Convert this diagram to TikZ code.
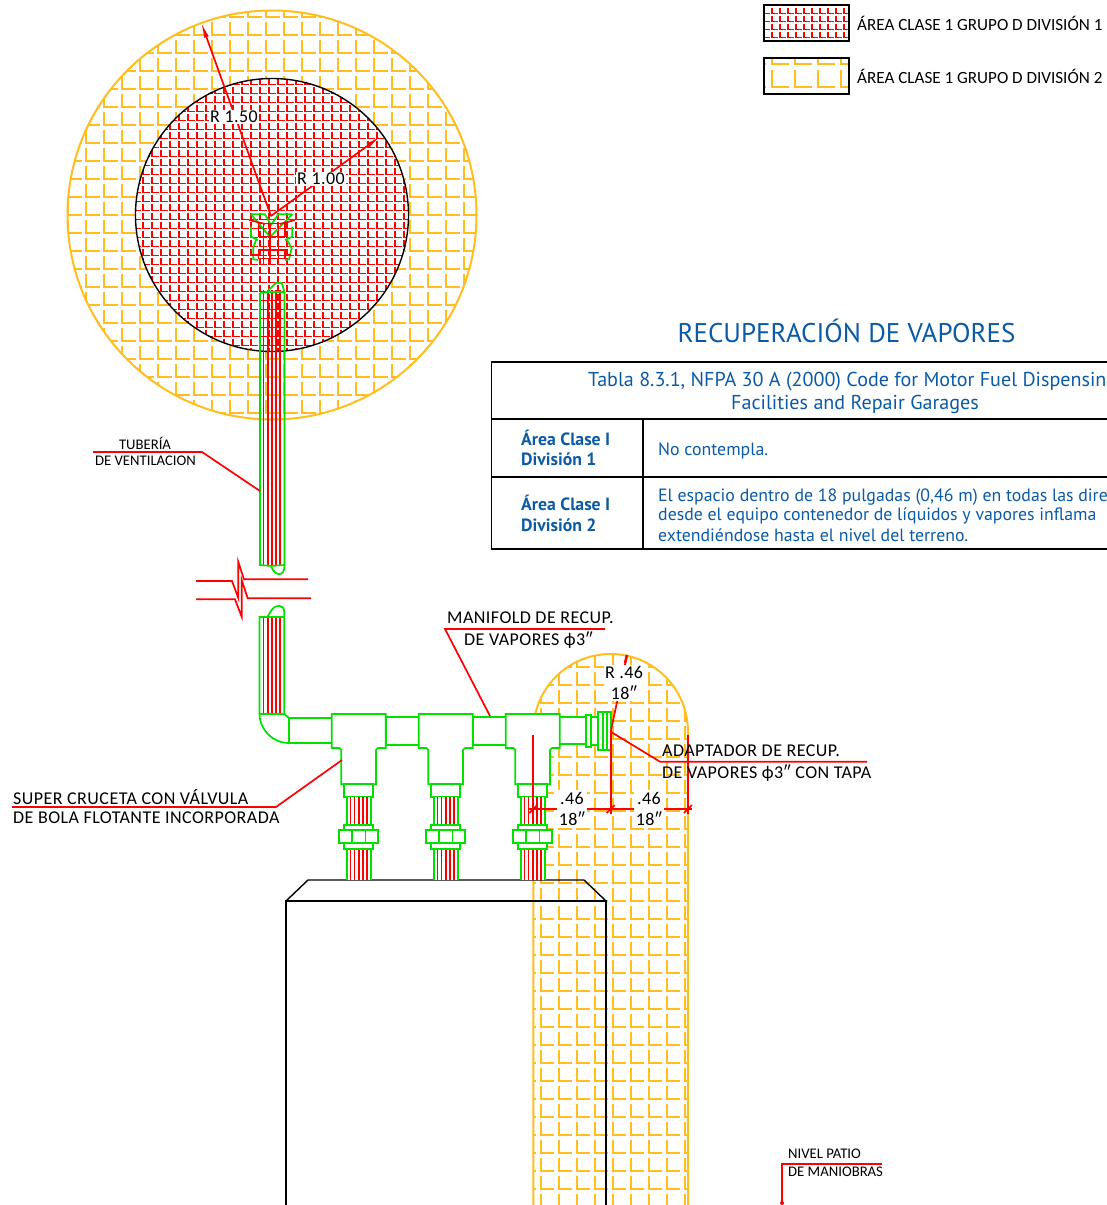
\documentclass[tikz,border=0pt]{standalone}
\usepackage{fontspec}
\usepackage{xcolor}
\usetikzlibrary{arrows.meta}
\newfontfamily\cadfont[LetterSpace=2.5]{Carlito}
\newfontfamily\cadlow{Carlito}
\newfontfamily\tabfont{PT Sans}
\definecolor{vgreen}{RGB}{0,225,0}
\definecolor{vyellow}{RGB}{255,190,30}
\definecolor{vblue}{RGB}{10,90,165}
\newcommand{\lhatch}[6]{\foreach \i in {0,...,#3} \foreach \j in {0,...,#4}
  \draw ({#1+\i*#5},{#2+\j*#5-#6}) -- ({#1+\i*#5},{#2+\j*#5}) -- ({#1+\i*#5+#6},{#2+\j*#5});}
\tikzset{
  gline/.style={draw=vgreen,line width=1.7pt},
  rline/.style={draw=red,line width=1.7pt},
  rthin/.style={draw=red,line width=1.55pt},
  yline/.style={draw=vyellow,line width=2pt},
  kline/.style={draw=black,line width=1.4pt},
  lab/.style={font=\cadfont\fontsize{18}{18}\selectfont,inner sep=0pt,anchor=west},
  labs/.style={font=\cadlow\fontsize{14.7}{15}\selectfont,inner sep=0pt,anchor=west},
  legtxt/.style={font=\cadlow\fontsize{17.1}{17.5}\selectfont,inner sep=0pt,anchor=west},
  dimtxt/.style={font=\cadfont\fontsize{18}{21}\selectfont,fill=white,inner sep=2pt,align=center},
  tabtxt/.style={font=\tabfont\fontsize{17.8}{19}\selectfont,text=vblue,inner sep=0pt,anchor=west},
  tabhead/.style={font=\tabfont\fontsize{20.1}{22}\selectfont,text=vblue,inner sep=0pt},
  tabbold/.style={font=\tabfont\bfseries\fontsize{17.7}{19}\selectfont,text=vblue,inner sep=0pt,anchor=west}
}
\begin{document}
\begin{tikzpicture}[x=1pt,y=-1pt]
        \path[use as bounding box,clip] (0,0) rectangle (1107,1205);

        \begin{scope}
        \clip (272,215) circle[radius=204.5];
        \begin{scope}[every path/.style={yline}]
        \lhatch{50}{17.3}{24}{23}{18}{13.5}
        \end{scope}
        \end{scope}
        \fill[white] (272,215) circle[radius=136.5];
        \begin{scope}
        \clip (272,215) circle[radius=136.5];
        \begin{scope}[every path/.style={rthin}]
        \lhatch{134}{75.3}{32}{31}{9}{6.7}
        \end{scope}
        \end{scope}
        \draw[yline] (272,215) circle[radius=204.5];
        \draw[kline] (272,215) circle[radius=136.5];

        \begin{scope}
        \clip (533.3,1210) -- (533.3,731.3) arc[start angle=180,end angle=360,radius=77.3] -- (688,1210) -- cycle;
        \begin{scope}[every path/.style={yline}]
        \lhatch{522.7}{667}{9}{31}{18}{13.5}
        \end{scope}
        \end{scope}
        \draw[yline] (533.3,1210) -- (533.3,731.3) arc[start angle=180,end angle=360,radius=77.3] -- (688,1210);

        \draw[kline] (286,1210) -- (286,901) -- (606,901) -- (606,1210);
        \draw[kline] (286,901) -- (308,880) -- (584,880) -- (606,901);

        \foreach \sx in {263.5,267.7,271.7,275.7,280} {
          \draw[rline] (\sx,290) -- (\sx,566);
          \draw[rline] (\sx,616) -- (\sx,714);
        }
        \draw[gline] (260,293) -- (260,565) -- (271,566) .. controls (275,577) and (285,577) .. (284.5,565) -- (284.5,293);
        \draw[gline] (271,566) -- (284.5,565);
        \draw[gline] (260,293) -- (266.7,292) -- (276,283) -- (281.7,283) -- (284.5,292) -- (266.7,292);
        \draw[gline] (259.5,714) -- (259.5,617) -- (267.3,617) -- (271.7,610) .. controls (276,604) and (284,604) .. (284.3,612) -- (284.3,714);
        \draw[gline] (267.3,617) -- (284.3,617);

        \draw[gline,fill=white] (259.5,714) -- (284.3,714) -- (289,718) -- (289,743) arc[start angle=90,end angle=180,radius=29.5] -- cycle;
        \draw[gline,fill=white] (289,718) rectangle (332,743);
        \draw[gline,fill=white] (386,716.7) rectangle (419,745);
        \draw[gline,fill=white] (473,716.7) rectangle (506,745);
        \draw[gline,fill=white] (559.3,716.7) rectangle (586,744.3);

        \foreach \offs in {0,87,174} {
          \begin{scope}[shift={(\offs,0)}]
          \draw[gline,fill=white] (331.7,714) -- (385.7,714) -- (385.7,748) -- (378,748) -- (376,750) -- (376,784.3) -- (341.3,784.3) -- (341.3,750) -- (339.5,748) -- (331.7,748) -- cycle;
          \draw[gline,fill=white] (344,784.3) rectangle (373.3,797.3);
          \fill[white] (347,797.3) rectangle (370.7,880);
          \foreach \sx in {350.5,354.5,358.7,362.7,366.7} {
            \draw[rline] (\sx,797.3) -- (\sx,825.3);
            \draw[rline] (\sx,849) -- (\sx,880);
          }
          \draw[gline] (347,797.3) -- (347,825.3);
          \draw[gline] (370.7,797.3) -- (370.7,825.3);
          \draw[gline] (347,849) -- (347,880);
          \draw[gline] (370.7,849) -- (370.7,880);
          \draw[gline,fill=white] (344,825.3) rectangle (373.3,830);
          \draw[gline,fill=white] (339,830) rectangle (378.3,843.3);
          \draw[gline] (352.3,830) -- (352.3,843.3);
          \draw[gline] (365.5,830) -- (365.5,843.3);
          \draw[gline,fill=white] (344,843.3) rectangle (373.3,849);
          \end{scope}
        }
        \draw[gline,fill=white] (586,714.7) rectangle (591,747.3);
        \draw[gline,fill=white] (591,716.7) rectangle (600.3,745);
        \draw[gline,fill=white] (597.7,711.7) rectangle (610.7,750);
        \draw[gline] (603.3,711.7) -- (603.3,750);
        \draw[gline] (606.7,711.7) -- (606.7,750);

        \draw[gline] (251,214.3) -- (265,214.3) -- (271,225) -- (278.3,214.3) -- (292.3,214.3);
        \draw[gline] (251,214.3) -- (270,237) -- (292.3,214.3);
        \draw[gline] (251,226.7) -- (251,236.7) -- (258,240);
        \draw[gline] (292.3,226.7) -- (292.3,236.7) -- (285,240);
        \draw[gline] (256,240) -- (253.3,248.3) -- (253.3,259.3) -- (258.3,260);
        \draw[gline] (287,240) -- (291.7,248.3) -- (289,259.3) -- (285,260);
        \draw[rthin] (258.3,223.3) rectangle (285,236.7);
        \draw[rthin] (258.3,250) rectangle (285,258.3);
        \foreach \sx in {263.3,270,278.3} {
          \draw[rthin] (\sx,223.3) -- (\sx,264);
        }
        \draw[rline] (249.3,220) -- (265,224);
        \draw[rline] (295,220) -- (280,224);
        \draw[rline,line width=2.5pt] (252,255) -- (258,255);
        \draw[rline,line width=2.5pt] (285,255) -- (291,255);

        \coordinate (c) at (271,216);
        \coordinate (r1) at (201,22);
        \coordinate (r2) at (381,136);
        \draw[rline,-{Latex[length=16pt,width=5pt]}] (c) -- (r1);
        \draw[rline,-{Latex[length=16pt,width=5pt]}] (c) -- (r2);
        \node[dimtxt,inner sep=1pt] (ra) at (234,117) {R 1.50};
        \node[dimtxt,inner sep=1pt] (rb) at (321,179) {R 1.00};

        \draw[rline] (196,581) -- (232,581) -- (238.3,598) -- (238.3,562) -- (244,579.3) -- (308,579.3);
        \draw[rline] (196,599.3) -- (235,599.3) -- (241.7,616.7) -- (241.7,580) -- (247.7,598.3) -- (311,598.3);

        \coordinate (rc) at (610.7,731.7);
        \coordinate (rt) at (627,655);
        \draw[rline] (rc) -- (rt);
        \draw[rline,line width=2.5pt] (625,663) -- (627,655);
        \node[dimtxt,inner sep=1pt] (rd) at (624,683) {R .46\\18″};

        \coordinate (d1) at (533.3,809);
        \coordinate (d2) at (610.7,809);
        \coordinate (d3) at (688,809);
        \draw[rline,line width=2pt] (533.3,735) -- (533.3,814);
        \draw[rline,line width=2pt] (610.7,732) -- (610.7,814);
        \draw[rline,line width=2pt] (688,735) -- (688,814);
        \draw[rline] (528,809) -- (692,809);
        \foreach \tick in {d1,d2,d3} {
          \draw[rline] ([shift={(-4,4)}]\tick) -- ([shift={(4,-4)}]\tick);
        }
        \node[dimtxt] (da) at (572,809) {.46\\18″};
        \node[dimtxt] (db) at (649,809) {.46\\18″};

        \node[labs,anchor=center] (tuba) at (145,443.5) {TUBERÍA};
        \node[labs,anchor=center] (tubb) at (145.5,461) {DE VENTILACION};
        \coordinate (tubc) at (260,491);
        \draw[rline] (93,452) -- (202,452) -- (tubc);

        \node[lab] (mana) at (447,618) {MANIFOLD DE RECUP.};
        \node[lab] (manb) at (464,640) {DE VAPORES ϕ3″};
        \coordinate (manc) at (490,716);
        \draw[rline] (605,629) -- (445,629) -- (manc);

        \node[lab] (adpa) at (662,751) {ADAPTADOR DE RECUP.};
        \node[lab] (adpb) at (662,773) {DE VAPORES ϕ3″ CON TAPA};
        \draw[rline] (867,761.7) -- (660,761.7) -- (rc);

        \node[lab] (supa) at (13,797) {SUPER CRUCETA CON VÁLVULA};
        \node[lab] (supb) at (13,818) {DE BOLA FLOTANTE INCORPORADA};
        \coordinate (supc) at (342,760);
        \draw[rline] (12,807) -- (276,807) -- (supc);

        \node[labs] (nvla) at (788,1154) {NIVEL PATIO};
        \node[labs] (nvlb) at (788,1171.5) {DE MANIOBRAS};
        \coordinate (nvlc) at (782,1203);
        \draw[rline] (882,1164) -- (782,1164) -- (nvlc);
        \fill[red] (nvlc) circle[radius=2];

        \begin{scope}
        \clip (764,5) rectangle (849,41);
        \begin{scope}[every path/.style={rthin}]
        \lhatch{756}{5.3}{12}{5}{8}{5.8}
        \end{scope}
        \end{scope}
        \draw[kline] (764,5) rectangle (849,41);
        \begin{scope}
        \clip (764,58) rectangle (849,94);
        \begin{scope}[every path/.style={yline}]
        \lhatch{749}{64.3}{5}{2}{23}{17}
        \end{scope}
        \end{scope}
        \draw[kline] (764,58) rectangle (849,94);
        \node[legtxt] (lega) at (857,23) {ÁREA CLASE 1 GRUPO D DIVISIÓN 1};
        \node[legtxt] (legb) at (857,76) {ÁREA CLASE 1 GRUPO D DIVISIÓN 2};

        \node[tabhead,font=\tabfont\fontsize{27}{28}\selectfont] (title) at (846.5,331) {RECUPERACIÓN DE VAPORES};
        \draw[kline] (1110,362) -- (491.5,362) -- (491.5,549) -- (1110,549);
        \draw[kline] (491.5,419) -- (1110,419);
        \draw[kline] (491.5,477) -- (1110,477);
        \draw[kline] (643,419) -- (643,549);
        \node[tabhead,anchor=west] (heada) at (588,382) {Tabla 8.3.1, NFPA 30 A (2000) Code for Motor Fuel Dispensin};
        \node[tabhead] (headb) at (855,404) {Facilities and Repair Garages};
        \node[tabbold] (cla) at (521,438) {Área Clase I};
        \node[tabbold] (clb) at (521,459) {División 1};
        \node[tabbold] (clc) at (521,503) {Área Clase I};
        \node[tabbold] (cld) at (521,525) {División 2};
        \node[tabtxt] (txa) at (658,451) {No contempla.};
        \node[tabtxt] (txb) at (658,497) {El espacio dentro de 18 pulgadas (0,46 m) en todas las dire};
        \node[tabtxt] (txc) at (658,516) {desde el equipo contenedor de líquidos y vapores inflama};
        \node[tabtxt] (txd) at (658,535) {extendiéndose hasta el nivel del terreno.};
\end{tikzpicture}
\end{document}
